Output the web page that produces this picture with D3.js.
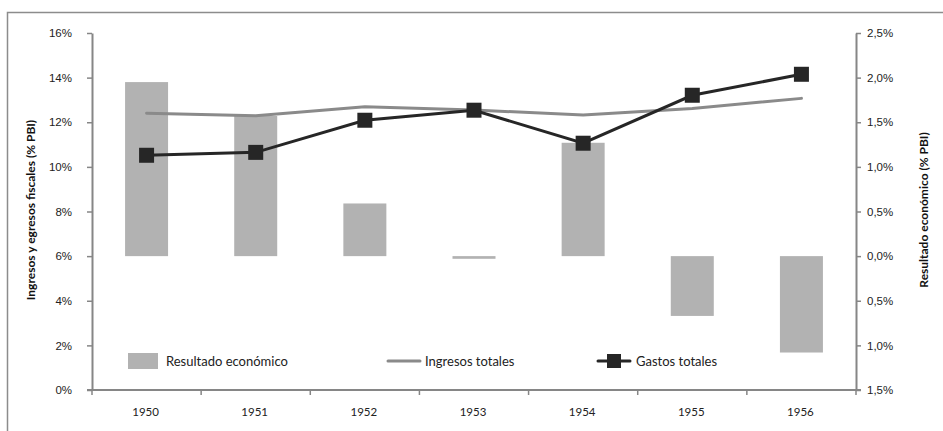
<!DOCTYPE html>
<html>
<head>
<meta charset="utf-8">
<script src="https://cdn.jsdelivr.net/npm/d3@7"></script>
<style>
  body { margin: 0; background: #fff; }
  svg { display: block; font-family: Lato, "Open Sans", sans-serif; }
</style>
</head>
<body>
<script>
var years = ["1950", "1951", "1952", "1953", "1954", "1955", "1956"];
var resultado = [1.95, 1.57, 0.59, -0.03, 1.27, -0.67, -1.08];
var ingresos = [12.40, 12.29, 12.70, 12.55, 12.32, 12.62, 13.07];
var gastos = [10.52, 10.65, 12.09, 12.54, 11.06, 13.21, 14.15];
var leftTicks = [0, 2, 4, 6, 8, 10, 12, 14, 16];
var rightTicks = [-1.5, -1.0, -0.5, 0, 0.5, 1.0, 1.5, 2.0, 2.5];

var svg = d3.select("body")
            .append("svg")
            .attr("width", 943)
            .attr("height", 431);

var margin = {top: 33, right: 87, bottom: 41, left: 92};
var width = 943 - margin.left - margin.right;
var height = 431 - margin.top - margin.bottom;

// outer frame
svg.append("rect")
   .attr("x", 7.5).attr("y", 12.5)
   .attr("width", 960).attr("height", 440)
   .attr("fill", "none")
   .attr("stroke", "#8c8c8c")
   .attr("stroke-width", 1.5);

var g = svg.append("g")
           .attr("transform", "translate(" + margin.left + "," + margin.top + ")");

var xBand = d3.scaleBand().domain(years).range([0, width]);
var yL = d3.scaleLinear().domain([0, 16]).range([height, 0]);
var yR = d3.scaleLinear().domain([-1.5, 2.5]).range([height, 0]);

var axisColor = "#868686";

// bars
g.selectAll("rect.bar")
 .data(resultado)
 .enter()
 .append("rect")
 .attr("class", "bar")
 .attr("x", function(d, i) { return xBand(years[i]) + xBand.bandwidth() / 2 - 21.5; })
 .attr("width", 43)
 .attr("y", function(d) { return yR(Math.max(0, d)); })
 .attr("height", function(d) { return Math.abs(yR(d) - yR(0)); })
 .attr("fill", "#b2b2b2");

// left axis
var leftAxis = g.append("g")
 .call(d3.axisLeft(yL).tickValues(leftTicks).tickSize(5).tickSizeOuter(0)
   .tickFormat(function(d) { return d + "%"; }));
leftAxis.select(".domain").attr("stroke", axisColor).attr("stroke-width", 2);
leftAxis.selectAll(".tick line").attr("stroke", axisColor).attr("stroke-width", 1.5);
leftAxis.selectAll(".tick text").attr("x", -20).attr("fill", "#222").style("font-size", "11.5px");

// right axis
var rightAxis = g.append("g")
 .attr("transform", "translate(" + width + ",0)")
 .call(d3.axisRight(yR).tickValues(rightTicks).tickSize(5).tickSizeOuter(0)
   .tickFormat(function(d) { return d3.format(".1f")(Math.abs(d)).replace(".", ",") + "%"; }));
rightAxis.select(".domain").attr("stroke", axisColor).attr("stroke-width", 2);
rightAxis.selectAll(".tick line").attr("stroke", axisColor).attr("stroke-width", 1.5);
rightAxis.selectAll(".tick text").attr("x", 11).attr("fill", "#222").style("font-size", "11.5px");

// bottom axis
var bottom = g.append("g")
 .attr("transform", "translate(0," + height + ")");
bottom.append("line")
 .attr("x1", -5).attr("x2", width + 5)
 .attr("stroke", axisColor).attr("stroke-width", 2);
bottom.selectAll("line.tk")
 .data(d3.range(years.length + 1))
 .enter()
 .append("line")
 .attr("class", "tk")
 .attr("x1", function(d) { return d * xBand.step(); })
 .attr("x2", function(d) { return d * xBand.step(); })
 .attr("y1", 0).attr("y2", 5)
 .attr("stroke", axisColor).attr("stroke-width", 1.5);
bottom.selectAll("text")
 .data(years)
 .enter()
 .append("text")
 .attr("x", function(d) { return xBand(d) + xBand.bandwidth() / 2 - 1; })
 .attr("y", 26)
 .attr("text-anchor", "middle")
 .attr("fill", "#222")
 .style("font-size", "11.5px")
 .text(function(d) { return d; });

// lines
var cx = function(i) { return xBand(years[i]) + xBand.bandwidth() / 2; };

var line = d3.line()
 .x(function(d, i) { return cx(i); })
 .y(function(d) { return yL(d); });

g.append("path")
 .datum(ingresos)
 .attr("d", line)
 .attr("fill", "none")
 .attr("stroke", "#8a8a8a")
 .attr("stroke-width", 3)
 .attr("stroke-linecap", "round");

g.append("path")
 .datum(gastos)
 .attr("d", line)
 .attr("fill", "none")
 .attr("stroke", "#262626")
 .attr("stroke-width", 3);

g.selectAll("rect.mk")
 .data(gastos)
 .enter()
 .append("rect")
 .attr("class", "mk")
 .attr("x", function(d, i) { return cx(i) - 7.5; })
 .attr("y", function(d) { return yL(d) - 7.5; })
 .attr("width", 15)
 .attr("height", 15)
 .attr("fill", "#262626");

// axis titles
svg.append("text")
 .attr("transform", "translate(35,210) rotate(-90)")
 .attr("text-anchor", "middle")
 .style("font-size", "12px")
 .style("font-weight", "bold")
 .attr("fill", "#111")
 .text("Ingresos y egresos fiscales (% PBI)");

svg.append("text")
 .attr("transform", "translate(928,210) rotate(-90)")
 .attr("text-anchor", "middle")
 .style("font-size", "12px")
 .style("font-weight", "bold")
 .attr("fill", "#111")
 .text("Resultado económico (% PBI)");

// legend
var leg = svg.append("g");
leg.append("rect")
 .attr("x", 128).attr("y", 353).attr("width", 30).attr("height", 16)
 .attr("fill", "#b2b2b2");
leg.append("text")
 .attr("x", 166).attr("y", 365.5)
 .style("font-size", "13px").attr("fill", "#222")
 .text("Resultado económico");

leg.append("line")
 .attr("x1", 388).attr("x2", 420).attr("y1", 361).attr("y2", 361)
 .attr("stroke", "#8a8a8a").attr("stroke-width", 3).attr("stroke-linecap", "round");
leg.append("text")
 .attr("x", 425).attr("y", 365.5)
 .style("font-size", "13px").attr("fill", "#222")
 .text("Ingresos totales");

leg.append("line")
 .attr("x1", 598).attr("x2", 630).attr("y1", 361).attr("y2", 361)
 .attr("stroke", "#262626").attr("stroke-width", 3).attr("stroke-linecap", "round");
leg.append("rect")
 .attr("x", 607).attr("y", 354).attr("width", 14).attr("height", 14)
 .attr("fill", "#262626");
leg.append("text")
 .attr("x", 636).attr("y", 365.5)
 .style("font-size", "13px").attr("fill", "#222")
 .text("Gastos totales");
</script>
</body>
</html>
